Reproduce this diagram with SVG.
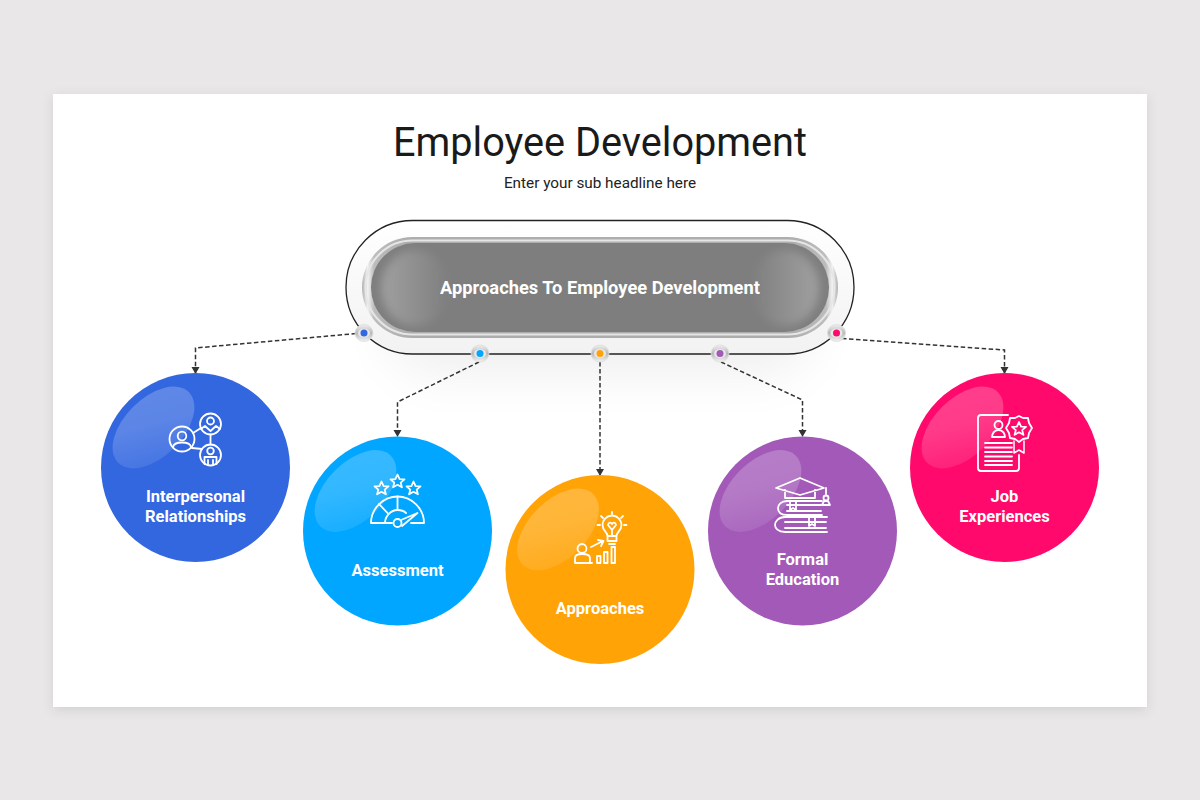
<svg xmlns="http://www.w3.org/2000/svg" width="1200" height="800" viewBox="0 0 1200 800">
<style>
text{font-family:Roboto,"Liberation Sans",sans-serif;text-anchor:middle}
.lb{font-size:16.500px;font-weight:700;fill:#fff}
.ic{fill:none;stroke:#fff;stroke-width:1.800;stroke-linejoin:round;stroke-linecap:round}
.cn{fill:none;stroke:#333;stroke-width:1.500;stroke-dasharray:4.500 2.500;marker-end:url(#ah)}
.bd{fill:url(#bdg);stroke:#dcdcdc;stroke-width:.8}
.bi{fill:#e8e8e8}
</style>
<defs>
<marker id="ah" markerWidth="9" markerHeight="9" refX="6" refY="4" orient="auto" markerUnits="userSpaceOnUse"><path d="M0 0L7 4L0 8Z" fill="#333"/></marker>
<filter id="ps" x="-5%" y="-5%" width="110%" height="110%"><feDropShadow dx="0" dy="3" stdDeviation="6" flood-color="#000" flood-opacity=".1"/></filter>
<filter id="cs" x="-30%" y="-40%" width="160%" height="200%"><feGaussianBlur stdDeviation="28"/></filter>
<filter id="sb" x="-30%" y="-30%" width="160%" height="160%"><feGaussianBlur stdDeviation="4"/></filter>
<linearGradient id="hl" x1="0" y1="1" x2="1" y2="0"><stop offset="0" stop-color="#fff" stop-opacity=".06"/><stop offset=".55" stop-color="#fff" stop-opacity=".2"/><stop offset="1" stop-color="#fff" stop-opacity=".22"/></linearGradient>
<linearGradient id="rim" x1="0" y1="0" x2="1" y2="0"><stop offset="0" stop-color="#b0b0b0"/><stop offset=".012" stop-color="#f2f2f2"/><stop offset=".025" stop-color="#bdbdbd"/><stop offset=".1" stop-color="#adadad"/><stop offset=".9" stop-color="#adadad"/><stop offset=".975" stop-color="#bdbdbd"/><stop offset=".988" stop-color="#f2f2f2"/><stop offset="1" stop-color="#b0b0b0"/></linearGradient>
<linearGradient id="gl1" x1="0" y1="0" x2="1" y2="0"><stop offset="0" stop-color="#a0a0a0"/><stop offset="1" stop-color="#a0a0a0" stop-opacity="0"/></linearGradient>
<linearGradient id="gl2" x1="1" y1="0" x2="0" y2="0"><stop offset="0" stop-color="#a0a0a0"/><stop offset="1" stop-color="#a0a0a0" stop-opacity="0"/></linearGradient>
<linearGradient id="bdg" x1="0" y1="0" x2="0" y2="1"><stop offset="0" stop-color="#f0f0f0"/><stop offset=".5" stop-color="#b8b8b8"/><stop offset="1" stop-color="#f4f4f4"/></linearGradient>
<linearGradient id="halo" x1="0" y1="0" x2="0" y2="1"><stop offset="0" stop-color="#fff"/><stop offset="1" stop-color="#f2f2f2"/></linearGradient>
<ellipse id="hlp" cx="-42" cy="-40" rx="50" ry="29" transform="rotate(-45 -42 -40)" fill="url(#hl)"/>
<path id="star" d="M0 -7L2.100 -2.300L7 -2.100L3.200 1.100L4.400 5.800L0 3.300L-4.400 5.800L-3.200 1.100L-7 -2.100L-2.100 -2.300Z"/>
</defs>
<rect width="1200" height="800" fill="#e9e7e8"/>
<rect x="53" y="94" width="1094" height="613" fill="#fff" filter="url(#ps)"/>
<text x="600" y="156" font-size="40" fill="#1a1a1a" textLength="414" lengthAdjust="spacingAndGlyphs">Employee Development</text>
<text x="600" y="188" font-size="15.300" fill="#222">Enter your sub headline here</text>

<g id="center-node">
<rect x="390" y="285" width="420" height="85" rx="42" fill="#000" opacity=".07" filter="url(#cs)"/>
<rect x="346" y="220.500" width="508" height="133.500" rx="66.700" fill="url(#halo)" stroke="#222" stroke-width="1.300"/>
<rect x="362" y="237" width="476" height="101" rx="50.500" fill="url(#rim)"/>
<rect x="365.500" y="240.500" width="469" height="94" rx="47" fill="none" stroke="#e6e6e6" stroke-width="2"/>
<rect x="371" y="243" width="458" height="89" rx="44.500" fill="#7e7e7e"/>
<rect x="381" y="250" width="68" height="76" rx="38" fill="url(#gl1)" filter="url(#sb)"/>
<rect x="751" y="250" width="68" height="76" rx="38" fill="url(#gl2)" filter="url(#sb)"/>
<text x="600" y="293.500" font-size="18.300" font-weight="700" fill="#fff">Approaches To Employee Development</text>
</g>

<g id="connectors">
<path class="cn" d="M356 333.500L195.500 348V373"/>
<path class="cn" d="M479 362L397.500 402V436"/>
<path class="cn" d="M600 362V475"/>
<path class="cn" d="M721 362L802.500 400V436"/>
<path class="cn" d="M842 338.500L1004.500 350V373"/>
</g>

<g id="port-1"><ellipse class="bd" cx="364" cy="333" rx="9" ry="8.500"/><ellipse class="bi" cx="364" cy="333" rx="6" ry="4.500"/><circle cx="364" cy="333" r="3.500" fill="#3367e0"/></g>
<g id="port-2"><ellipse class="bd" cx="480" cy="353.500" rx="9" ry="8.500"/><ellipse class="bi" cx="480" cy="353.500" rx="6" ry="4.500"/><circle cx="480" cy="353.500" r="3.500" fill="#00a6ff"/></g>
<g id="port-3"><ellipse class="bd" cx="600" cy="353.500" rx="9" ry="8.500"/><ellipse class="bi" cx="600" cy="353.500" rx="6" ry="4.500"/><circle cx="600" cy="353.500" r="3.500" fill="#ffa306"/></g>
<g id="port-4"><ellipse class="bd" cx="720" cy="353.500" rx="9" ry="8.500"/><ellipse class="bi" cx="720" cy="353.500" rx="6" ry="4.500"/><circle cx="720" cy="353.500" r="3.500" fill="#a259b8"/></g>
<g id="port-5"><ellipse class="bd" cx="836.500" cy="333" rx="9" ry="8.500"/><ellipse class="bi" cx="836.500" cy="333" rx="6" ry="4.500"/><circle cx="836.500" cy="333" r="3.500" fill="#ff0a6c"/></g>

<g id="node-interpersonal">
<circle cx="195.500" cy="467.500" r="94.500" fill="#3367e0"/>
<use href="#hlp" x="195.500" y="467.500"/>
<g class="ic">
<circle cx="182" cy="439" r="12.500"/><circle cx="182" cy="436" r="4.300"/><path d="M173 447C174 441 190 441 191 447"/>
<circle cx="210.500" cy="424" r="10.500"/><circle cx="210.500" cy="421" r="3.500"/><path d="M201 429L205 426L210.500 431L216 426L220 429"/>
<circle cx="210.500" cy="455" r="10.500"/><circle cx="210.500" cy="451" r="3.300"/><path d="M204.500 464V457H216.500V464M208 464V460M213 464V460"/>
<path d="M193 433L201 428M210.500 434.500V444.500M192 448L202 449"/>
</g>
<text class="lb" x="195.500" y="501.500">Interpersonal</text><text class="lb" x="195.500" y="521.500">Relationships</text>
</g>

<g id="node-assessment">
<circle cx="397.500" cy="531" r="94.500" fill="#00a6ff"/>
<use href="#hlp" x="397.500" y="531"/>
<g class="ic">
<use href="#star" x="381.500" y="488.500"/><use href="#star" x="397.500" y="481.500"/><use href="#star" x="413.500" y="488.500"/>
<path d="M371 523C371 508 384 496.500 397.500 496.500C411 496.500 424 508 424 523H411M392 523H371M385 523C385 516 391 510 397.500 510C401 510 404 511 406 513"/>
<path d="M379 504L388.500 514M397.500 496.500V510"/>
<path d="M401 520L417.500 513L402 526"/>
<circle cx="397.500" cy="523" r="4"/>
</g>
<text class="lb" x="397.500" y="575.500">Assessment</text>
</g>

<g id="node-approaches">
<circle cx="600" cy="569.500" r="94.500" fill="#ffa306"/>
<use href="#hlp" x="600" y="569.500"/>
<g class="ic">
<path d="M607.500 536C607.500 532 602.500 531 602.500 525A9.500 9.500 0 0 1 621.500 525C621.500 531 616.500 532 616.500 536ZM607.500 536V541H616.500V536M609 544H615"/>
<path d="M612 536V530L608 525C608.500 522 611 522 612 524C613 522 615.500 522 616 525L612 530"/>
<path d="M612 512V514M601 516L603 518M623 516L621 518M597.500 525H600M624 525H626.500"/>
<circle cx="582" cy="548.500" r="4.500"/>
<path d="M575 563V558C575 555 578 554 582 554C586 554 590 555 590 558V563M575 563H592"/>
<path d="M591 547L603 541M598 540L603.500 541L601 546"/>
<rect x="597" y="556" width="3.500" height="7"/><rect x="604" y="552" width="3.500" height="11"/><rect x="611.500" y="547" width="3.500" height="16"/>
</g>
<text class="lb" x="600" y="614">Approaches</text>
</g>

<g id="node-formal-education">
<circle cx="802.500" cy="531" r="94.500" fill="#a259b8"/>
<use href="#hlp" x="802.500" y="531"/>
<g class="ic">
<path d="M776 488L800 478L824 488L800 495ZM785 490V498H815V490"/>
<path d="M826 488V494"/><circle cx="826" cy="498" r="2.500"/><path d="M822 505L824 501H828L830 505Z"/>
<path d="M822 501H787C781 501 778 505 778 508C778 512 781 515 787 515H822M787 505H821M787 511H821"/>
<path d="M790 501V510L793 508L796 510V501"/>
<path d="M827 517H785C778 517 775 522 775 525C775 528 778 532 785 532H827M785 522H826M785 528H826"/>
<path d="M809 517V526L812 524L815 526V517"/>
</g>
<text class="lb" x="802.500" y="565">Formal</text><text class="lb" x="802.500" y="585">Education</text>
</g>

<g id="node-job-experiences">
<circle cx="1004.500" cy="467.500" r="94.500" fill="#ff0a6c"/>
<use href="#hlp" x="1004.500" y="467.500"/>
<g class="ic">
<path d="M1008 415H981C979 415 978 416 978 418V468C978 470 979 471 981 471H1016C1018 471 1019 470 1019 468V455"/>
<circle cx="998.500" cy="425" r="4"/>
<path d="M998.500 430C994 430 992 434 992 437H1005C1005 434 1003 430 998.500 430Z"/>
<path d="M985 443H1012M985 447.500H1012M985 452H1012M985 456.500H1012M985 461H1012M985 465H1012"/>
<path d="M1019 416L1023 418L1028 418L1029 423L1032 428L1029 433L1028 438L1023 439L1019 442L1015 439L1010 438L1009 433L1006 428L1009 423L1010 418L1015 418Z"/>
<use href="#star" x="1019" y="429"/>
<path d="M1014 441V453L1019 450L1024 453V441" stroke-width="1.500"/>
</g>
<text class="lb" x="1004.500" y="501.500">Job</text><text class="lb" x="1004.500" y="521.500">Experiences</text>
</g>
</svg>
